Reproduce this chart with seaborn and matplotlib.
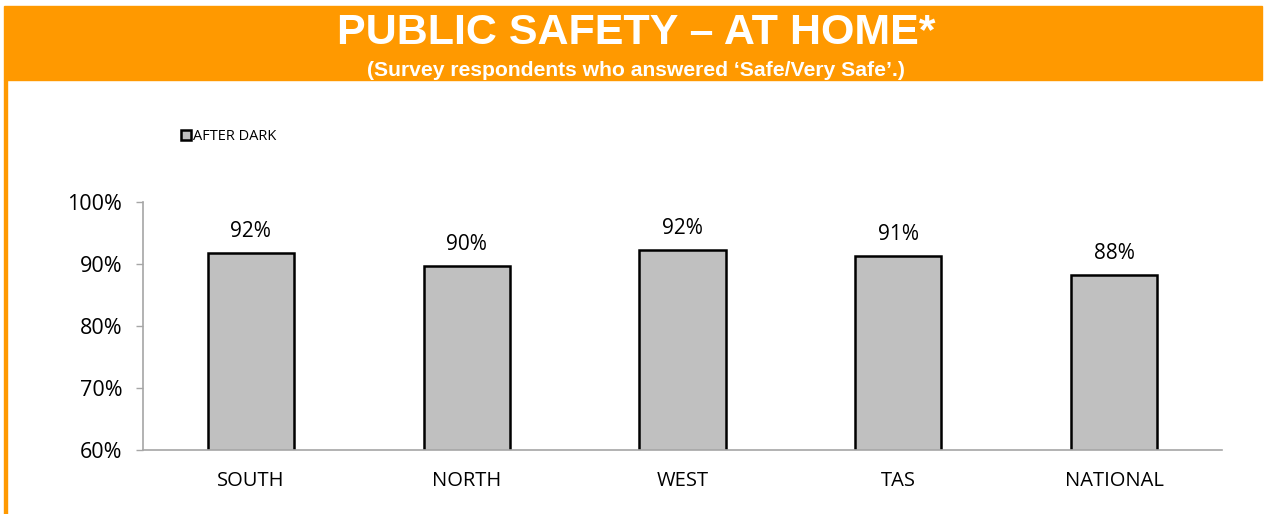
import pandas as pd
import seaborn as sns
import matplotlib.pyplot as plt
from matplotlib.patches import Rectangle
from matplotlib.lines import Line2D

regions = ["SOUTH", "NORTH", "WEST", "TAS", "NATIONAL"]
after_dark = [91.8, 89.6, 92.3, 91.3, 88.2]
value_labels = ["92%", "90%", "92%", "91%", "88%"]
y_ticks = [60, 70, 80, 90, 100]

df = pd.DataFrame({"region": regions, "pct": after_dark})

sns.set_style("white")
plt.rcParams['font.family'] = ['Open Sans', 'DejaVu Sans']
plt.rcParams['text.color'] = 'black'
plt.rcParams['xtick.color'] = 'black'
plt.rcParams['ytick.color'] = 'black'

orange = '#FF9900'
fig = plt.figure(figsize=(12.66, 5.14), dpi=100)

# header band and frame
fig.patches.append(Rectangle((4 / 1266, 1 - 80 / 514), 1258 / 1266, 74 / 514,
                             transform=fig.transFigure, color=orange, zorder=0))
fig.patches.append(Rectangle((4 / 1266, 0), 3 / 1266, 1 - 80 / 514,
                             transform=fig.transFigure, color=orange, zorder=0))
fig.text(0.5025, 1 - 33 / 514, "PUBLIC SAFETY – AT HOME*", ha='center', va='center',
         color='white', fontsize=31, fontweight='bold', family='Liberation Sans')
fig.text(0.5025, 1 - 70 / 514, "(Survey respondents who answered ‘Safe/Very Safe’.)",
         ha='center', va='center', color='white', fontsize=15.2, fontweight='bold',
         family='Liberation Sans')

ax = fig.add_axes([143 / 1266, 1 - 450 / 514, 1079 / 1266, 248 / 514])
sns.barplot(data=df, x="region", y="pct", color='#C0C0C0', edgecolor='black',
            linewidth=1.8, width=0.40, saturation=1, ax=ax)

for i, lab in enumerate(value_labels):
    ax.annotate(lab, xy=(i, after_dark[i]), xytext=(0, 8), textcoords='offset points',
                ha='center', va='bottom', fontsize=15)

ax.set_ylim(60, 100)
ax.set_yticks(y_ticks)
ax.set_yticklabels([f"{t}%" for t in y_ticks], fontsize=15.5)
ax.tick_params(axis='x', labelsize=14.5, length=0, pad=15)
ax.tick_params(axis='y', length=5, width=1, color='#A6A6A6', direction='out', pad=10, left=True)
ax.set_xlabel("")
ax.set_ylabel("")
for s in ['top', 'right']:
    ax.spines[s].set_visible(False)
for s in ['left', 'bottom']:
    ax.spines[s].set_color('#A6A6A6')
    ax.spines[s].set_linewidth(1.2)

handle = Line2D([], [], marker='s', linestyle='none', markersize=7.5,
                markerfacecolor='#C0C0C0', markeredgecolor='black', markeredgewidth=1.8)
fig.legend([handle], ["AFTER DARK"], loc='center left',
           bbox_to_anchor=(173 / 1266, 1 - 137 / 514), frameon=False, fontsize=10.5,
           handletextpad=0.0, handlelength=1.0, borderaxespad=0)

fig.savefig("out.png", dpi=100)
